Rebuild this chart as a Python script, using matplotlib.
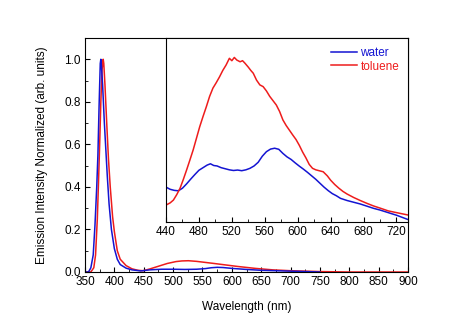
import numpy as np
import matplotlib.pyplot as plt
from matplotlib.ticker import MultipleLocator, FormatStrFormatter

plt.rcParams['font.family'] = ['Liberation Sans', 'DejaVu Sans']
plt.rcParams['font.size'] = 8.5

# Main spectra (full range)
water_wl = [350, 356, 360, 364, 367, 370, 372, 374, 376, 377, 378, 380, 383, 386, 388,
            391, 395, 400, 405, 410, 420, 430, 445, 460, 480, 500, 520, 540, 555,
            565, 575, 585, 600, 625, 650, 700, 750]
water_int = [0, 0, 0.02, 0.08, 0.22, 0.4, 0.55, 0.78, 0.98, 1.0, 0.97, 0.88, 0.7, 0.55,
             0.45, 0.32, 0.2, 0.11, 0.06, 0.035, 0.018, 0.01, 0.005, 0.01, 0.013, 0.013,
             0.012, 0.013, 0.016, 0.02, 0.022, 0.021, 0.017, 0.012, 0.008, 0.004, 0]

toluene_wl = [350, 360, 365, 368, 371, 373, 375, 377, 379, 381, 382, 384, 387, 390, 393,
              397, 400, 405, 410, 420, 430, 440, 449, 460, 475, 490, 505, 515, 526,
              540, 555, 570, 590, 610, 640, 670, 700, 750, 800, 900]
toluene_int = [0, 0, 0.02, 0.08, 0.25, 0.42, 0.6, 0.8, 0.95, 1.0, 0.98, 0.88, 0.7, 0.53,
               0.4, 0.26, 0.19, 0.1, 0.06, 0.03, 0.015, 0.008, 0.006, 0.014, 0.027, 0.04,
               0.049, 0.052, 0.053, 0.05, 0.045, 0.04, 0.033, 0.026, 0.017, 0.01, 0.006,
               0.002, 0, 0]

# Inset (zoomed 440-735 nm)
ins_water_wl = [440, 445, 450, 455, 460, 465, 470, 475, 480, 485, 490, 494, 498, 502,
                507, 512, 517, 522, 527, 532, 537, 542, 547, 552, 557, 562, 567, 572,
                577, 582, 587, 592, 597, 602, 607, 612, 617, 622, 627, 632, 637, 642,
                647, 652, 660, 668, 676, 684, 692, 700, 710, 720, 734]
ins_water_int = [0.41, 0.40, 0.395, 0.393, 0.405, 0.425, 0.447, 0.468, 0.488, 0.50,
                 0.512, 0.518, 0.51, 0.508, 0.50, 0.495, 0.49, 0.487, 0.489, 0.486,
                 0.49, 0.497, 0.508, 0.525, 0.553, 0.574, 0.586, 0.59, 0.585, 0.566,
                 0.55, 0.538, 0.522, 0.507, 0.493, 0.478, 0.462, 0.446, 0.428, 0.41,
                 0.394, 0.38, 0.37, 0.358, 0.348, 0.34, 0.332, 0.322, 0.312, 0.304,
                 0.292, 0.28, 0.26]

ins_tol_wl = [440, 445, 449, 453, 457, 461, 465, 469, 473, 477, 481, 485, 489, 493,
              497, 501, 505, 509, 513, 517, 520, 523, 526, 530, 533, 536, 540, 543,
              546, 550, 554, 558, 562, 566, 570, 574, 578, 582, 586, 590, 594, 598,
              602, 606, 610, 614, 618, 622, 626, 631, 636, 640, 645, 650, 655, 660,
              668, 676, 684, 692, 700, 710, 720, 734]
ins_tol_int = [0.327, 0.337, 0.35, 0.375, 0.404, 0.445, 0.489, 0.535, 0.582, 0.636,
               0.69, 0.737, 0.782, 0.83, 0.868, 0.893, 0.92, 0.95, 0.975, 1.006, 0.995,
               1.01, 0.998, 0.99, 0.995, 0.983, 0.965, 0.95, 0.937, 0.905, 0.883, 0.875,
               0.855, 0.83, 0.81, 0.79, 0.76, 0.721, 0.695, 0.673, 0.651, 0.63, 0.603,
               0.572, 0.545, 0.515, 0.497, 0.49, 0.486, 0.481, 0.462, 0.442, 0.422,
               0.405, 0.39, 0.378, 0.362, 0.348, 0.335, 0.323, 0.313, 0.3, 0.292, 0.281]

blue = '#1414d2'
red = '#ee1c1c'

fig = plt.figure(figsize=(4.74, 3.27), dpi=100)
ax = fig.add_axes([0.1793, 0.1682, 0.6815, 0.7156])
ax.plot(toluene_wl, toluene_int, color=red, lw=1.1)
ax.plot(water_wl, water_int, color=blue, lw=1.1)
ax.set_xlim(350, 900)
ax.set_ylim(0, 1.1)
ax.xaxis.set_major_locator(MultipleLocator(50))
ax.xaxis.set_minor_locator(MultipleLocator(25))
ax.yaxis.set_major_locator(MultipleLocator(0.2))
ax.yaxis.set_minor_locator(MultipleLocator(0.1))
ax.yaxis.set_major_formatter(FormatStrFormatter('%.1f'))
ax.tick_params(which='both', direction='in', top=False, right=False, pad=3)
ax.tick_params(which='major', length=3.5)
ax.tick_params(which='minor', length=2)
ax.set_xlabel('Wavelength (nm)', labelpad=9)
ax.set_ylabel('Emission Intensity Normalized (arb. units)', labelpad=12)

ins = fig.add_axes([0.3502, 0.322, 0.5106, 0.5618])
ins.plot(ins_water_wl, ins_water_int, color=blue, lw=1.1, label='water')
ins.plot(ins_tol_wl, ins_tol_int, color=red, lw=1.1, label='toluene')
ins.set_xlim(440, 734)
ins.set_ylim(0.25, 1.1)
ins.xaxis.set_major_locator(MultipleLocator(40))
ins.xaxis.set_minor_locator(MultipleLocator(20))
ins.set_yticks([])
ins.tick_params(which='both', direction='in', pad=3)
ins.tick_params(which='major', length=3.5)
ins.tick_params(which='minor', length=2)
leg = ins.legend(loc='upper right', frameon=False, fontsize=8.5, handlelength=2.2,
                 handletextpad=0.3, labelspacing=0.15, borderaxespad=0.35)
for txt, line in zip(leg.get_texts(), leg.get_lines()):
    txt.set_color(line.get_color())

fig.savefig('out.png', dpi=100)
